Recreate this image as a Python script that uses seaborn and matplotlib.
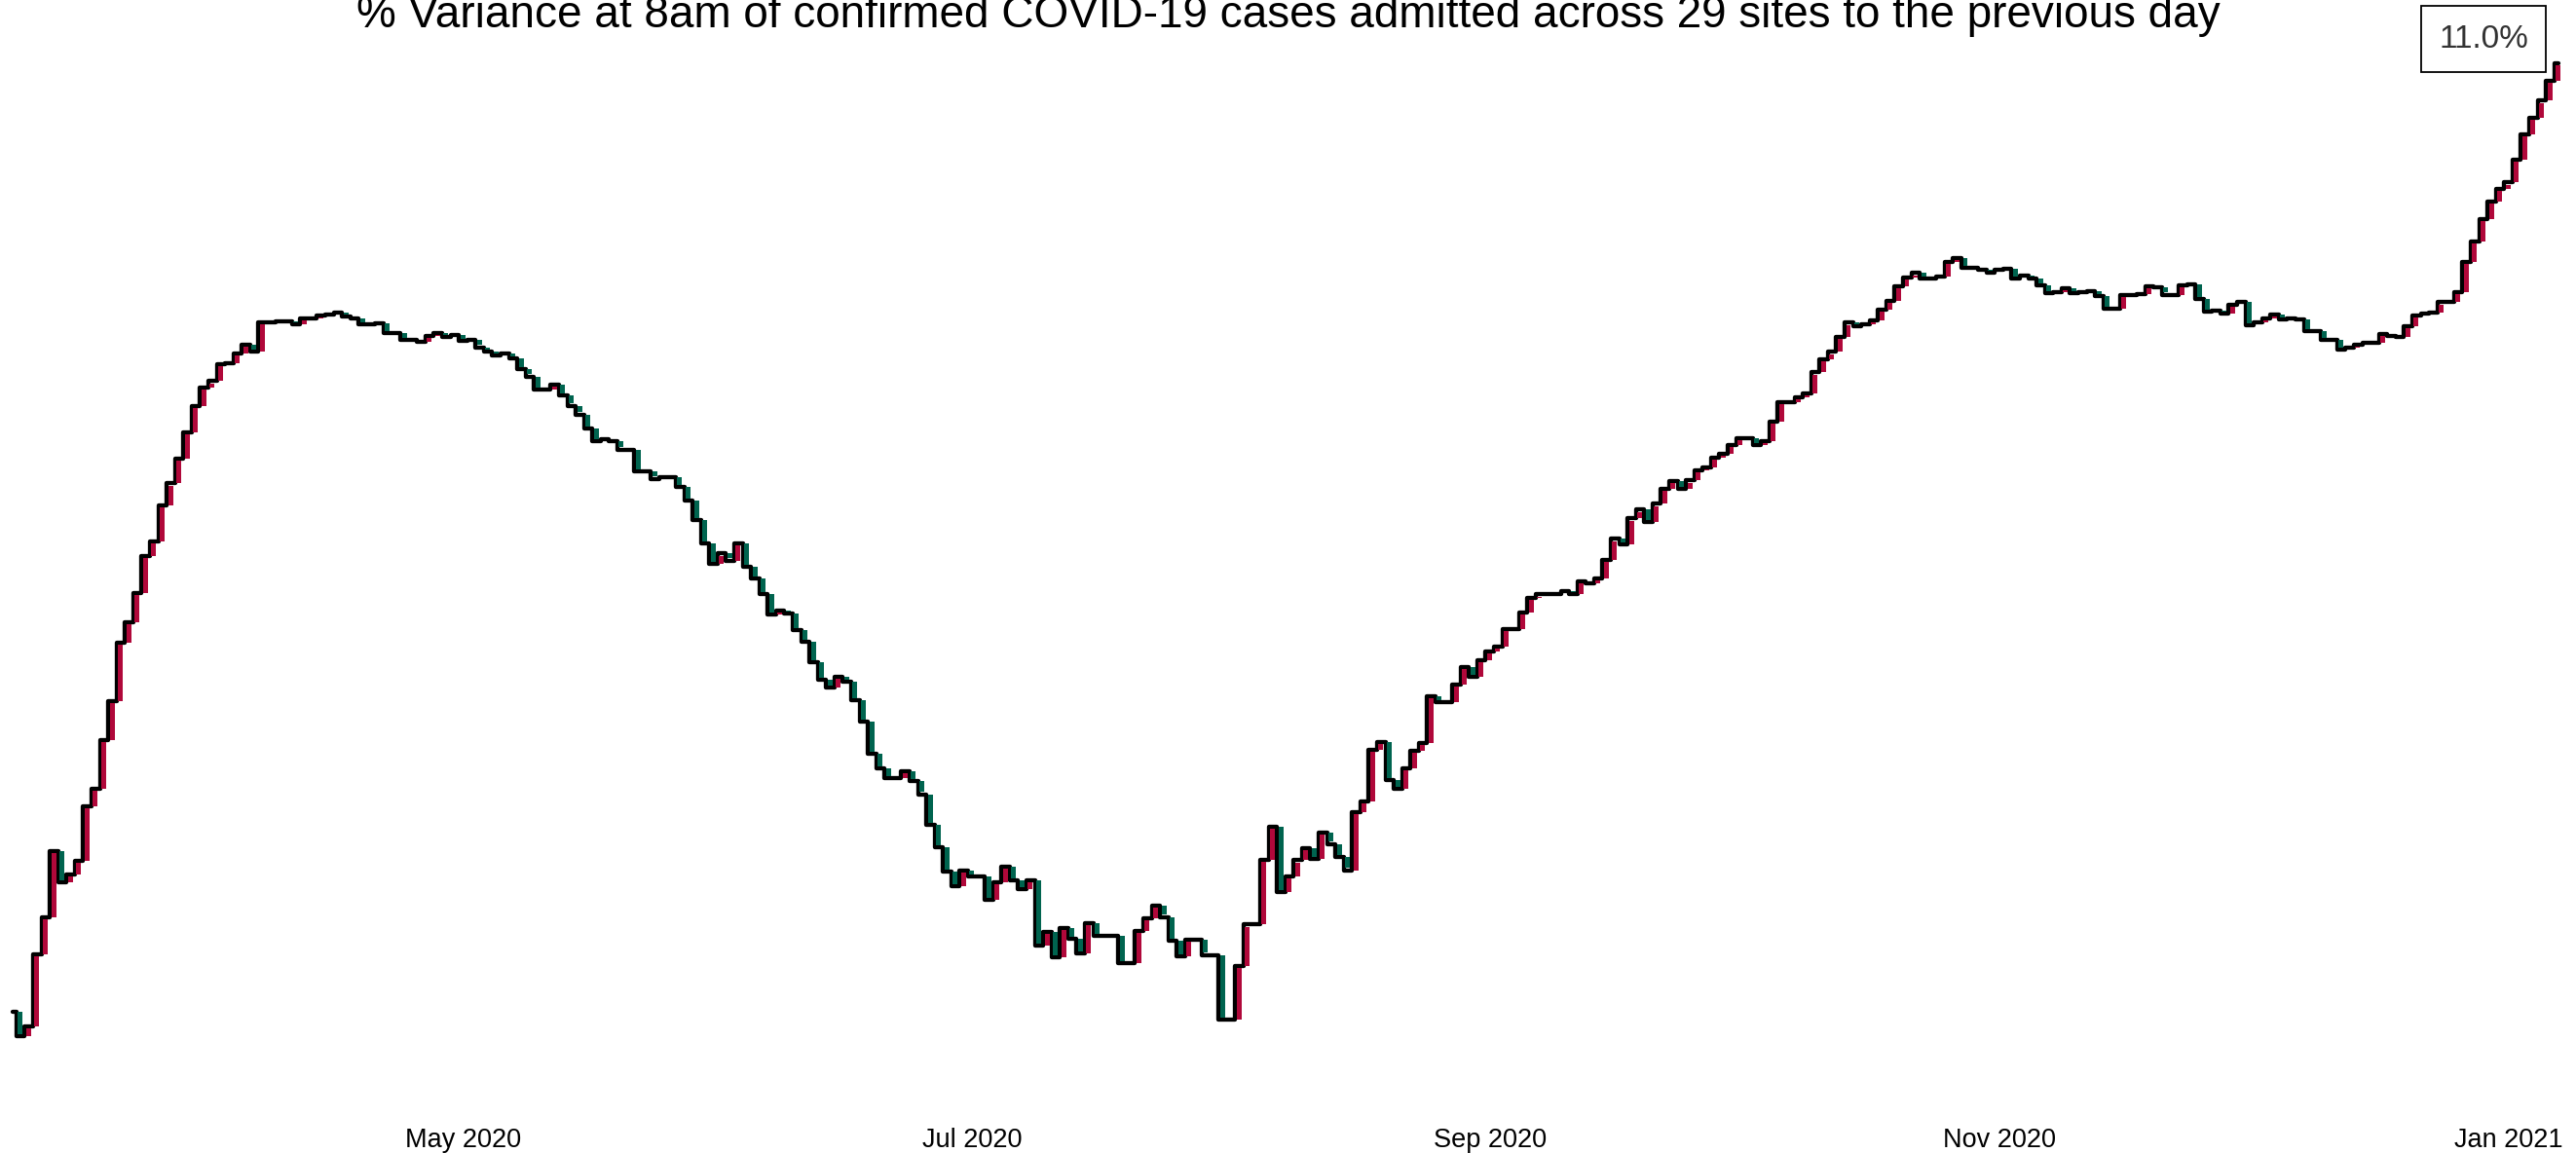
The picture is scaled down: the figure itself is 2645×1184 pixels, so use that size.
import matplotlib
matplotlib.use("Agg")
import matplotlib.pyplot as plt
import matplotlib.dates as mdates
import seaborn as sns
import numpy as np
import pandas as pd

# daily values, 8 Mar 2020 .. 7 Jan 2021 (% units)
start_date = "2020-03-08"
pct_values = [
    -5.23, -5.65, -5.48, -4.25, -3.61, -2.48, -3.02, -2.88, -2.65, -1.71,
    -1.42, -0.58, 0.08, 1.08, 1.43, 1.94, 2.57, 2.82, 3.44, 3.81,
    4.23, 4.69, 5.14, 5.45, 5.56, 5.85, 5.87, 6.04, 6.18, 6.07,
    6.57, 6.57, 6.58, 6.58, 6.53, 6.63, 6.64, 6.68, 6.70, 6.74,
    6.66, 6.64, 6.53, 6.53, 6.55, 6.38, 6.38, 6.27, 6.27, 6.24,
    6.33, 6.38, 6.32, 6.35, 6.25, 6.26, 6.14, 6.07, 6.00, 6.04,
    5.95, 5.76, 5.64, 5.42, 5.42, 5.50, 5.31, 5.14, 4.99, 4.75,
    4.53, 4.56, 4.53, 4.39, 4.39, 4.02, 4.02, 3.89, 3.91, 3.91,
    3.75, 3.52, 3.18, 2.78, 2.43, 2.61, 2.49, 2.78, 2.38, 2.18,
    1.91, 1.57, 1.64, 1.58, 1.30, 1.10, 0.75, 0.45, 0.32, 0.50,
    0.42, 0.10, -0.27, -0.82, -1.07, -1.24, -1.24, -1.11, -1.29, -1.51,
    -2.03, -2.42, -2.83, -3.08, -2.81, -2.92, -2.92, -3.32, -3.02, -2.75,
    -2.98, -3.13, -2.98, -4.10, -3.86, -4.30, -3.80, -3.98, -4.23, -3.72,
    -3.93, -3.93, -3.93, -4.40, -4.40, -3.85, -3.63, -3.41, -3.61, -4.02,
    -4.29, -4.00, -4.00, -4.26, -4.26, -5.37, -5.37, -4.45, -3.74, -3.74,
    -2.63, -2.06, -3.18, -2.92, -2.64, -2.43, -2.62, -2.17, -2.36, -2.58,
    -2.81, -1.82, -1.63, -0.75, -0.62, -1.27, -1.42, -1.07, -0.76, -0.63,
    0.17, 0.07, 0.07, 0.37, 0.67, 0.50, 0.78, 0.93, 1.02, 1.32,
    1.32, 1.60, 1.85, 1.91, 1.91, 1.91, 1.96, 1.91, 2.13, 2.10,
    2.18, 2.50, 2.86, 2.76, 3.21, 3.36, 3.15, 3.46, 3.72, 3.85,
    3.72, 3.86, 4.04, 4.08, 4.25, 4.32, 4.47, 4.58, 4.58, 4.47,
    4.54, 4.87, 5.20, 5.20, 5.29, 5.35, 5.71, 5.93, 6.06, 6.32,
    6.56, 6.50, 6.53, 6.60, 6.78, 6.93, 7.18, 7.33, 7.41, 7.31,
    7.31, 7.35, 7.60, 7.67, 7.50, 7.50, 7.47, 7.42, 7.46, 7.48,
    7.31, 7.36, 7.32, 7.20, 7.06, 7.08, 7.15, 7.07, 7.08, 7.10,
    7.02, 6.80, 6.80, 7.03, 7.03, 7.05, 7.18, 7.17, 7.04, 7.04,
    7.20, 7.21, 6.97, 6.75, 6.76, 6.71, 6.87, 6.91, 6.52, 6.56,
    6.63, 6.70, 6.61, 6.63, 6.62, 6.42, 6.42, 6.27, 6.27, 6.10,
    6.13, 6.18, 6.21, 6.21, 6.37, 6.33, 6.32, 6.50, 6.68, 6.72,
    6.74, 6.91, 6.91, 7.08, 7.60, 7.95, 8.33, 8.64, 8.85, 8.96,
    9.35, 9.78, 10.07, 10.36, 10.70, 11.00,
]
tick_dates = ["2020-05-01", "2020-07-01", "2020-09-01", "2020-11-01", "2021-01-01"]
tick_labels = ["May 2020", "Jul 2020", "Sep 2020", "Nov 2020", "Jan 2021"]
title = "% Variance at 8am of confirmed COVID-19 cases admitted across 29 sites to the previous day"

up_colour = "#B0083A"
down_colour = "#00644F"
line_w = 3.1  # points

dates = pd.date_range(start_date, periods=len(pct_values), freq="D")
df = pd.DataFrame({"date": dates, "pct": pct_values})
df["prev"] = df["pct"].shift(1)
df["change"] = df["pct"] - df["prev"]

sns.set_theme(style="white")
plt.rcParams["font.family"] = ["Liberation Sans", "DejaVu Sans"]

fig = plt.figure(figsize=(26.45, 11.84), dpi=100)
ax = fig.add_axes([0, 39 / 1184, 1, 1145 / 1184])

sns.lineplot(data=df, x="date", y="pct", drawstyle="steps-mid", color="black",
             linewidth=line_w, ax=ax, zorder=2, solid_joinstyle="round", solid_capstyle="round")

x0 = mdates.date2num(dates[0]) - 12.5 / 8.572
ax.set_xlim(x0, x0 + 2645 / 8.572)
ax.set_ylim(-7.0, 725 / 60)

# coloured day-on-day change bars, just right of each step, stopping under the new level's line
px_per_unit = 1145 / (725 / 60 + 7.0)
trim = (line_w / 72 * 100 / 2) / px_per_unit
chg = df.dropna()
chg = chg[chg["change"] != 0]
sign = np.sign(chg["change"])
heights = chg["change"] - sign * trim
heights = np.where(np.sign(heights) == sign, heights, 0)
bar_x = mdates.date2num(chg["date"]) - 0.5 + 0.17
ax.bar(bar_x, heights, bottom=chg["prev"], width=0.58, align="edge",
       color=np.where(chg["change"] > 0, up_colour, down_colour), linewidth=0, zorder=3)

ax.set_xticks(mdates.date2num(pd.to_datetime(tick_dates)))
ax.set_xticklabels(tick_labels, fontsize=19.5, color="black")
ax.tick_params(axis="x", length=0, pad=9.5)
ax.set_yticks([])
ax.set_xlabel("")
ax.set_ylabel("")
sns.despine(ax=ax, left=True, bottom=True)

last = df.iloc[-1]
ax.annotate(f"{last['pct']:.1f}%", xy=(mdates.date2num(last["date"]), last["pct"]),
            xytext=(-77, 25), textcoords="offset pixels", ha="center", va="center",
            fontsize=24, color="#333333", zorder=4,
            bbox=dict(boxstyle="square,pad=0.55", fc="white", ec="black", lw=1.3))

fig.text(0.5, 1 - 28 / 1184, title, ha="center", va="baseline", fontsize=33, color="black")

fig.savefig("out.png", dpi=100)
